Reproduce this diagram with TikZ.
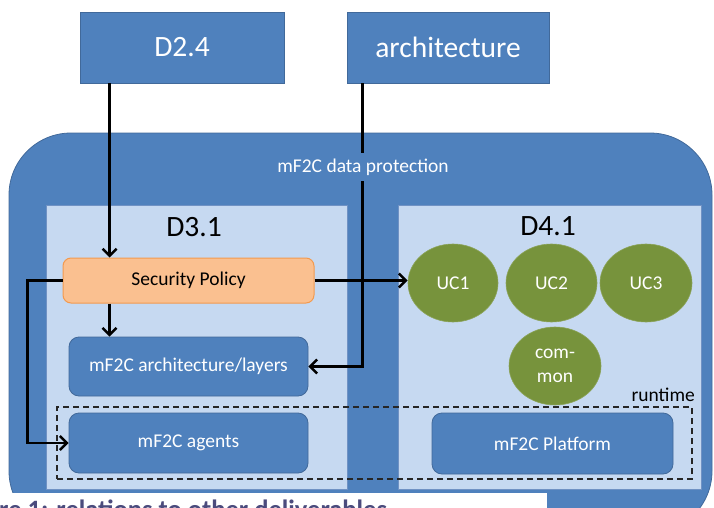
\documentclass[tikz,border=0pt]{standalone}
\usepackage{fontspec}
\setmainfont{Carlito}
\usetikzlibrary{arrows.meta,shapes.geometric}
\definecolor{boxblue}{HTML}{4F81BD}
\definecolor{boxedge}{HTML}{41699A}
\definecolor{panelfill}{HTML}{C6D9F1}
\definecolor{paneledge}{HTML}{7092C4}
\definecolor{orangefill}{HTML}{FAC090}
\definecolor{orangeedge}{HTML}{F39A4E}
\definecolor{ucgreen}{HTML}{77933C}
\definecolor{captioncol}{HTML}{4B4B7D}
\begin{document}
\begin{tikzpicture}[x=1pt,y=-1pt,
  bigtext/.style={font=\fontsize{29.5}{32}\selectfont},
  smalltext/.style={font=\fontsize{19.5}{24}\selectfont},
  topbox/.style={draw=boxedge, line width=0.8pt, fill=boxblue, text=white, bigtext, inner sep=0pt},
  outerbox/.style={draw=boxedge, line width=0.8pt, fill=boxblue, rounded corners=62pt, inner sep=0pt},
  panelbox/.style={draw=paneledge, line width=0.8pt, fill=panelfill, inner sep=0pt},
  innerbox/.style={draw=boxedge, line width=0.8pt, fill=boxblue, rounded corners=10pt, text=white, smalltext, inner sep=0pt},
  policybox/.style={draw=orangeedge, line width=1pt, fill=orangefill, rounded corners=8pt, text=black, smalltext, inner sep=0pt},
  ucnode/.style={ellipse, fill=ucgreen, draw=ucgreen!85!white, line width=0.6pt, text=white, smalltext, inner sep=0pt, minimum height=78pt},
  runbox/.style={draw=black!85, dashed, dash pattern=on 6pt off 4pt, line width=1.4pt, inner sep=0pt},
  arr/.style={draw=black, line width=2.5pt, -{Straight Barb[length=7pt,width=14pt,line width=2.5pt]}}
]
\useasboundingbox (0,0) rectangle (714,508);
\clip (0,0) rectangle (714,508);

% outer container
\node[outerbox, minimum width=703pt, minimum height=400pt] (outer) at (360.5,333) {};

% top boxes
\node[topbox, minimum width=204pt, minimum height=71pt] (d24) at (182,47.5) {D2.4};
\node[topbox, minimum width=202pt, minimum height=71pt] (archsrc) at (448,47.5) {architecture};

% panels
\node[panelbox, minimum width=301pt, minimum height=284pt] (p31) at (196.5,347) {};
\node[panelbox, minimum width=303pt, minimum height=284pt] (p41) at (549.5,347) {};
\node[bigtext, inner sep=0pt] (t31) at (194,227) {D3.1};
\node[bigtext, inner sep=0pt] (t41) at (548,226) {D4.1};

% runtime dashed box
\node[runbox, minimum width=635pt, minimum height=72pt] (run) at (374.5,443) {};
\node[smalltext, anchor=base east, inner sep=0pt] (runlbl) at (695,401) {runtime};

% D3.1 contents
\node[policybox, minimum width=251pt, minimum height=45pt] (sp) at (188.5,280.5) {Security Policy};
\node[innerbox, minimum width=239pt, minimum height=59pt] (layers) at (188.5,366.5) {mF2C architecture/layers};
\node[innerbox, minimum width=239pt, minimum height=60pt] (agents) at (188.5,443) {mF2C agents};

% D4.1 contents
\node[ucnode, minimum width=90pt] (uc1) at (453,283) {UC1};
\node[ucnode, minimum width=91pt] (uc2) at (551.5,283) {UC2};
\node[ucnode, minimum width=92pt] (uc3) at (646,283) {UC3};
\node[ucnode, minimum width=92pt, align=center] (common) at (555,366) {com-\\mon};
\node[innerbox, minimum width=241pt, minimum height=61pt] (platform) at (552.5,443.5) {mF2C Platform};

% connectors
\draw[arr] ([xshift=30pt]d24.south west) -- ([xshift=30pt]d24.south west |- sp.north);
\draw[arr] ([xshift=16pt]archsrc.south west) |- (layers.east);
\draw[arr] (sp.east) -- (sp.east -| uc1.west);
\draw[arr] ([xshift=47pt]sp.south west) -- ([xshift=47pt]sp.south west |- layers.north);
\draw[arr] (sp.west) -- ++(-35pt,0) |- (agents.west);

% label over the line
\node[fill=boxblue, text=white, smalltext, inner xsep=3pt, inner ysep=6pt] (dp) at (363,167) {mF2C data protection};

% cut-off caption
\fill[white] (0,493) rectangle (547,520);
\node[anchor=base west, inner sep=0pt, text=captioncol, font=\bfseries\fontsize{26.5}{29}\selectfont] (cap) at (-1,518) {re 1: relations to other deliverables};
\end{tikzpicture}
\end{document}
